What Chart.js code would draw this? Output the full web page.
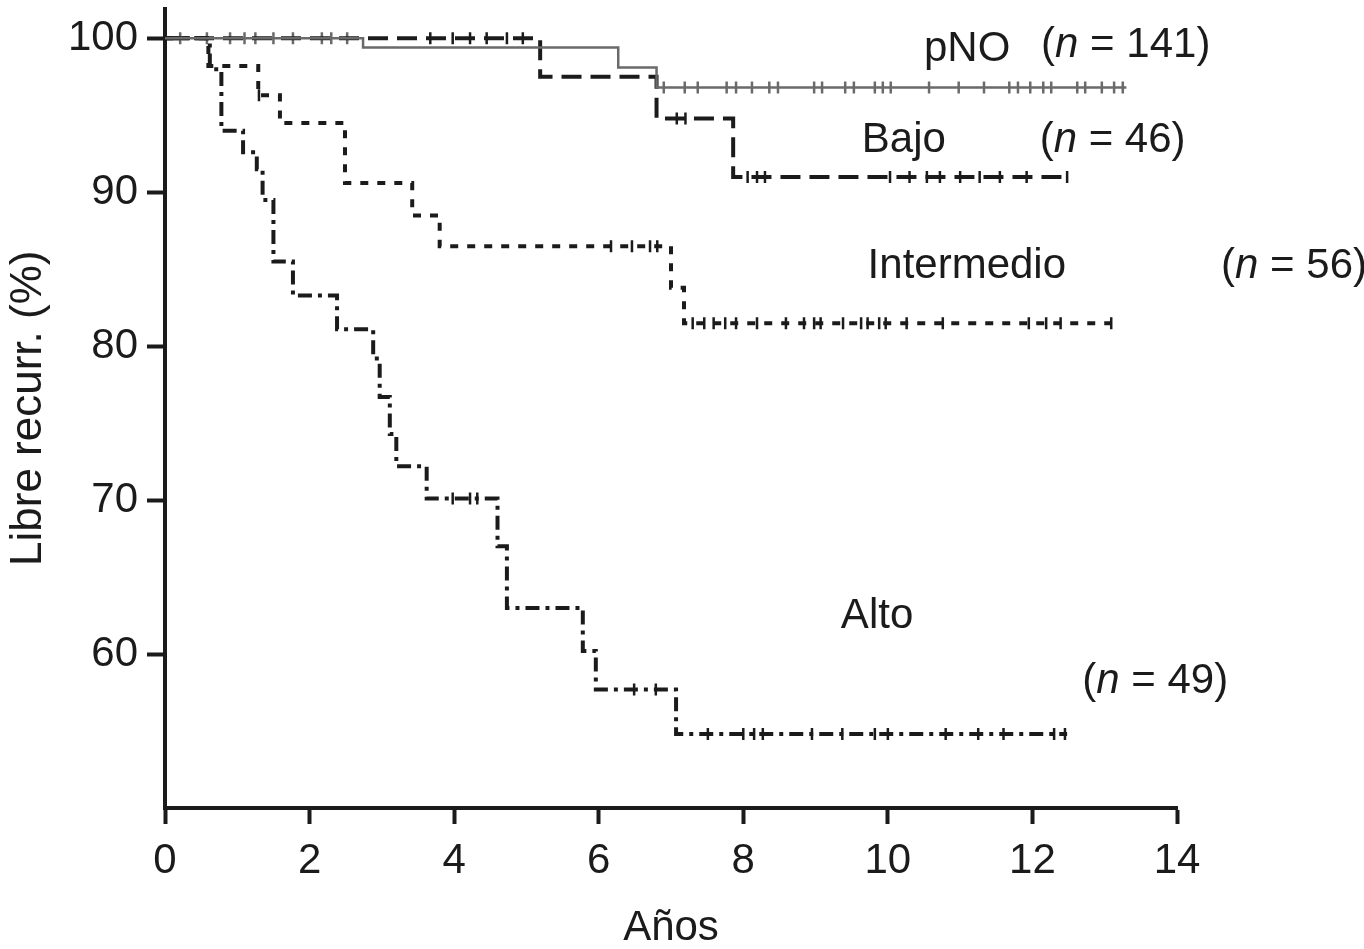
<!DOCTYPE html>
<html>
<head>
<meta charset="utf-8">
<script src="https://cdn.jsdelivr.net/npm/chart.js@4"></script>
<style>
  html, body { margin: 0; padding: 0; background: #fff; }
  canvas { display: block; }
</style>
</head>
<body>
<canvas id="km" width="1364" height="949"></canvas>
<script>
// Kaplan-Meier curves: time (years) of each step and survival (%) after the step
const pnoTimes = [0, 2.74, 6.27, 6.80, 13.30];
const pnoValues = [100, 99.4, 98.1, 96.8, 96.8];

const bajoTimes = [0, 5.19, 6.80, 7.86, 12.50];
const bajoValues = [100, 97.5, 94.8, 91.0, 91.0];

const intTimes = [0, 0.60, 1.29, 1.59, 2.49, 3.42, 3.80, 7.00, 7.18, 13.08];
const intValues = [100, 98.2, 96.3, 94.5, 90.6, 88.5, 86.5, 83.8, 81.5, 81.5];

const altoTimes = [0, 0.62, 0.78, 1.08, 1.27, 1.35, 1.50, 1.77, 2.38, 2.88, 2.97, 3.11, 3.20, 3.62, 4.60, 4.73, 5.78, 5.96, 7.07, 12.48];
const altoValues = [100, 98.0, 94.0, 92.6, 91.5, 89.5, 85.5, 83.3, 81.1, 79.2, 76.7, 74.3, 72.2, 70.1, 67.0, 63.0, 60.2, 57.7, 54.8, 54.8];

// censored cases (years), drawn as small ticks on each curve
const pnoCensor = [0.21, 0.58, 0.90, 1.10, 1.25, 1.50, 1.77, 2.17, 2.30, 2.52, 6.90, 7.19, 7.37, 7.77, 7.90, 8.12, 8.36, 8.48, 8.98, 9.09, 9.41, 9.53, 9.82, 9.93, 10.04, 10.57, 10.98, 11.33, 11.68, 11.80, 11.97, 12.15, 12.26, 12.62, 12.73, 12.96, 13.13, 13.25];
const bajoCensor = [3.67, 3.98, 4.22, 4.45, 4.73, 4.95, 7.08, 7.20, 8.06, 8.19, 8.30, 10.03, 10.30, 10.54, 10.72, 11.00, 11.27, 11.55, 11.92, 12.48];
const intCensor = [1.30, 6.17, 6.46, 6.71, 6.81, 7.30, 7.46, 7.59, 7.75, 7.90, 8.19, 8.59, 8.84, 8.98, 9.07, 9.38, 9.63, 9.72, 9.88, 9.97, 10.26, 10.76, 11.95, 12.19, 12.39, 13.09];
const altoCensor = [3.98, 4.22, 4.32, 6.49, 6.79, 7.51, 8.00, 8.15, 8.27, 8.95, 9.37, 9.82, 10.00, 10.80, 11.25, 11.60, 12.30, 12.45];

const xTicks = [0, 2, 4, 6, 8, 10, 12, 14];
const yTicks = [60, 70, 80, 90, 100];

const groupNames = ["pNO", "Bajo", "Intermedio", "Alto"];
const groupN = [141, 46, 56, 49];

const FONT = "'Liberation Sans', Arial, Helvetica, sans-serif";
const INK = "#1b1b1b";
const GREY = "#6a6a6a";

function points(times, values) {
  return times.map((t, i) => ({ x: t, y: values[i] }));
}

// a censored case sits on the curve level in force at its time
function censorPoints(censor, times, values) {
  return censor.map(t => {
    let v = values[0];
    times.forEach((s, i) => { if (s <= t) v = values[i]; });
    return { x: t, y: v };
  });
}

// where the group names and counts sit, in axis units (left edge, baseline)
const nameAt = [[10.50, 98.5], [9.64, 92.6], [9.72, 84.4], [9.35, 61.7]];
const countAt = [[12.12, 98.8], [12.10, 92.6], [14.61, 84.4], [12.69, 57.5]];

const groupLabels = {
  id: "groupLabels",
  afterDatasetsDraw(chart) {
    const { ctx, scales } = chart;
    ctx.save();
    ctx.fillStyle = INK;
    ctx.textBaseline = "alphabetic";
    ctx.textAlign = "left";
    groupNames.forEach((name, i) => {
      ctx.font = "42px " + FONT;
      ctx.fillText(name, scales.x.getPixelForValue(nameAt[i][0]), scales.y.getPixelForValue(nameAt[i][1]));

      let x = scales.x.getPixelForValue(countAt[i][0]);
      const y = scales.y.getPixelForValue(countAt[i][1]);
      ctx.fillText("(", x, y);
      x += ctx.measureText("(").width;
      ctx.font = "italic 42px " + FONT;
      ctx.fillText("n", x, y);
      x += ctx.measureText("n").width;
      ctx.font = "42px " + FONT;
      ctx.fillText(" = " + groupN[i] + ")", x, y);
    });
    ctx.restore();
  }
};

const line = (label, times, values, color, width, dash) => ({
  label: label,
  data: points(times, values),
  borderColor: color,
  borderWidth: width,
  borderDash: dash,
  stepped: true,
  pointRadius: 0,
  fill: false,
  borderCapStyle: "butt"
});

const ticks = (label, censor, times, values, color) => ({
  label: label + " censurados",
  data: censorPoints(censor, times, values),
  showLine: false,
  pointStyle: "line",
  rotation: 90,
  pointRadius: 6,
  pointBorderWidth: 2.5,
  pointBorderColor: color,
  pointBackgroundColor: color
});

new Chart(document.getElementById("km").getContext("2d"), {
  type: "line",
  data: {
    datasets: [
      line("pNO", pnoTimes, pnoValues, GREY, 2.5, []),
      line("Bajo", bajoTimes, bajoValues, INK, 4, [20, 9]),
      line("Intermedio", intTimes, intValues, INK, 4, [8, 9]),
      line("Alto", altoTimes, altoValues, INK, 4, [14, 6, 4, 6]),
      ticks("pNO", pnoCensor, pnoTimes, pnoValues, GREY),
      ticks("Bajo", bajoCensor, bajoTimes, bajoValues, INK),
      ticks("Intermedio", intCensor, intTimes, intValues, INK),
      ticks("Alto", altoCensor, altoTimes, altoValues, INK)
    ]
  },
  options: {
    responsive: false,
    animation: false,
    layout: { padding: { top: 5, right: 187, left: 0, bottom: 0 } },
    plugins: { legend: { display: false }, tooltip: { enabled: false } },
    scales: {
      x: {
        type: "linear",
        min: 0,
        max: 14,
        afterBuildTicks: s => { s.ticks = xTicks.map(v => ({ value: v })); },
        afterFit: s => { s.height = 141; s.paddingLeft = 0; s.paddingRight = 0; },
        ticks: { color: INK, font: { family: FONT, size: 42 }, padding: 12, maxRotation: 0 },
        grid: { drawOnChartArea: false, drawTicks: true, tickLength: 16, tickWidth: 4, tickColor: INK },
        border: { display: true, width: 4, color: INK },
        title: { display: true, text: "Años", color: INK, font: { family: FONT, size: 42, lineHeight: 1.0 }, padding: { top: 0, bottom: 0 } }
      },
      y: {
        min: 50,
        max: 101.94,
        afterBuildTicks: s => { s.ticks = yTicks.map(v => ({ value: v })); },
        afterFit: s => { s.width = 165; s.paddingTop = 0; s.paddingBottom = 0; },
        ticks: { color: INK, font: { family: FONT, size: 42 }, padding: 9 },
        grid: { drawOnChartArea: false, drawTicks: true, tickLength: 18, tickWidth: 4, tickColor: INK },
        border: { display: true, width: 4, color: INK },
        title: { display: true, text: "Libre recurr. (%)", color: INK, font: { family: FONT, size: 44 }, padding: { top: 2, bottom: 0 } }
      }
    }
  },
  plugins: [groupLabels]
});
</script>
</body>
</html>
